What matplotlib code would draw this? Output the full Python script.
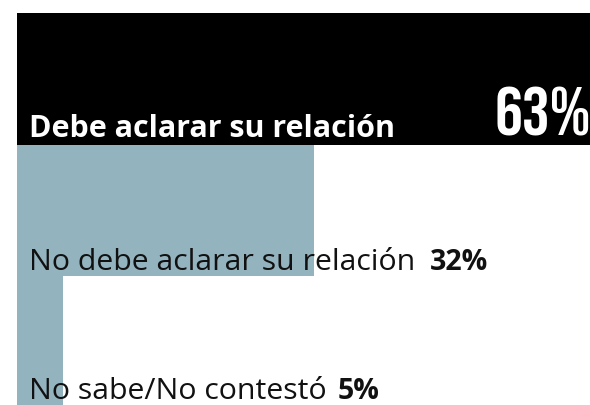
import matplotlib
matplotlib.use("Agg")
import matplotlib.pyplot as plt

categories = ["Debe aclarar su relación", "No debe aclarar su relación", "No sabe/No contestó"]
values = [63, 32, 5]
value_labels = ["63%", "32%", "5%"]
colors = ["#000000", "#93b3bf", "#93b3bf"]

W, H = 590, 406
fig = plt.figure(figsize=(W/100, H/100), dpi=100)
# axes from x=17px to right edge, y from 14px to bottom
ax = fig.add_axes([17/W, 0, 1 - 17/W, (H - 14)/H])
ax.set_axis_off()

ypos = list(range(len(values)))
ax.barh(ypos, values, height=1.0, color=colors, align="center")
ax.set_xlim(0, 61.7)
ax.set_ylim(2.48, -0.5)

fam = ["Open Sans", "DejaVu Sans"]
# first label (white, bold) and big percentage
ax.annotate(categories[0], xy=(0, 0.5), xycoords="data", xytext=(12, 9), textcoords="offset pixels",
            ha="left", va="baseline", color="white", fontsize=22, fontweight="bold", family=fam,
            annotation_clip=False)
ax.annotate(value_labels[0], xy=(1, 0.5), xycoords=("axes fraction", "data"), xytext=(1, 10),
            textcoords="offset pixels", ha="right", va="baseline", color="white", fontsize=50,
            family=["Bebas Neue", "DejaVu Sans"], annotation_clip=False)

offs = [None, 7, 10]
gaps = [None, 15, 11]
for i in (1, 2):
    t = ax.annotate(categories[i], xy=(0, i + 0.5), xycoords="data", xytext=(12, offs[i]),
                    textcoords="offset pixels", ha="left", va="baseline", color="#111111",
                    fontsize=21.8, family=fam, annotation_clip=False)
    ax.annotate(value_labels[i], xy=(1, 0), xycoords=t, xytext=(gaps[i], 0),
                textcoords="offset pixels", ha="left", va="bottom", color="#111111",
                fontsize=20.5, fontweight="bold", family=fam, annotation_clip=False)

fig.savefig("out.png", dpi=100)
